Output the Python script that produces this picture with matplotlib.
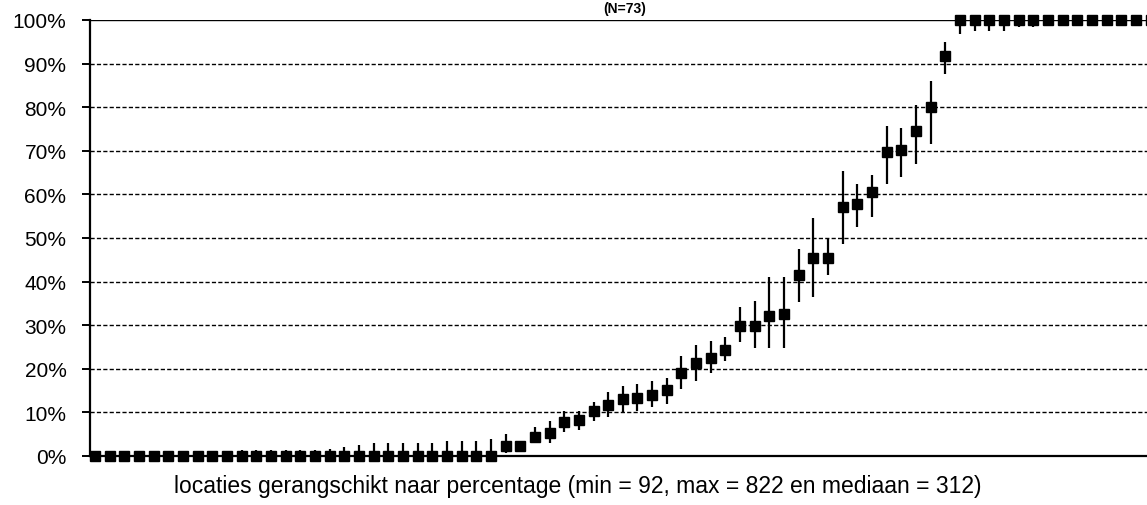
import numpy as np
import matplotlib
matplotlib.use("Agg")
import matplotlib.pyplot as plt

plt.rcParams['font.family'] = ['Liberation Sans', 'DejaVu Sans']

# percentage per locatie (gesorteerd), met onder- en bovengrens van het interval
pct = [0] * 28 + [
    2.2, 2.2, 4.3, 5.3, 7.9, 8.3, 10.4, 11.8, 13.1, 13.4, 14.0, 15.1,
    19.0, 21.3, 22.5, 24.3, 29.9, 29.9, 32.0, 32.5, 41.6, 45.4, 45.4,
    57.0, 57.8, 60.5, 69.7, 70.2, 74.5, 80.1, 91.8,
] + [100] * 14

lower = [0] * 28 + [
    0.8, 1.2, 3.0, 3.0, 5.5, 6.0, 8.1, 9.0, 10.0, 10.4, 11.3, 11.9,
    15.4, 17.3, 19.0, 21.7, 26.1, 24.7, 24.7, 24.7, 35.4, 36.4, 41.6,
    48.6, 52.5, 54.8, 62.4, 64.0, 67.0, 71.6, 87.6,
] + [96.8, 97.4, 97.4, 97.4, 98.3, 98.3, 99.0, 99.0, 99.5, 99.5, 99.5, 99.5, 99.5, 99.5]

upper = [0] * 10 + [1.4] * 6 + [1.7, 2.1, 2.6] + [3.0] * 5 + [3.5] * 3 + [3.9] + [
    5.0, 3.4, 6.6, 8.1, 10.4, 10.3, 12.3, 14.6, 16.1, 16.5, 17.3, 18.0,
    23.0, 25.5, 26.3, 27.2, 34.1, 35.5, 41.0, 41.0, 47.5, 54.6, 49.8,
    65.4, 62.4, 64.4, 75.8, 75.2, 80.5, 86.1, 94.9,
] + [100] * 14

yticks = [0, 10, 20, 30, 40, 50, 60, 70, 80, 90, 100]
xlabel = "locaties gerangschikt naar percentage (min = 92, max = 822 en mediaan = 312)"
title = "(N=73)"

pct = np.array(pct)
x = np.arange(len(pct))
yerr = [pct - np.array(lower), np.array(upper) - pct]

W, H = 1147, 506
fig = plt.figure(figsize=(W / 100, H / 100), dpi=100)
ax = fig.add_axes([90 / W, 49 / H, (1158 - 90) / W, 436 / H])

for t in yticks[1:-1]:
    ax.axhline(t, color='black', lw=1.0, dashes=(3, 1.6), zorder=1)
ax.axhline(100, color='black', lw=1.0, zorder=1)

eb = ax.errorbar(x, pct, yerr=yerr, fmt='s', color='black', ms=6.8,
                 elinewidth=1.6, capsize=0, zorder=3)
for art in eb.get_children():
    art.set_clip_on(False)

ax.set_xlim(-0.34, len(pct) - 0.5)
ax.set_ylim(0, 100)
ax.set_yticks(yticks)
ax.set_yticklabels([f"{t}%" for t in yticks])
ax.set_xticks([])

for s in ['top', 'right']:
    ax.spines[s].set_visible(False)
ax.spines['left'].set_linewidth(1.6)
ax.spines['bottom'].set_linewidth(1.6)
ax.tick_params(axis='y', direction='out', length=6, width=1.4, pad=11,
               labelsize=15, colors='black')

fig.text(578 / W, 1 - 487 / H, xlabel, ha='center', va='center', fontsize=16.5)
fig.text(625 / W, 1 - 9 / H, title, ha='center', va='center',
         fontsize=10, fontweight='bold')

fig.savefig("out.png", dpi=100)
